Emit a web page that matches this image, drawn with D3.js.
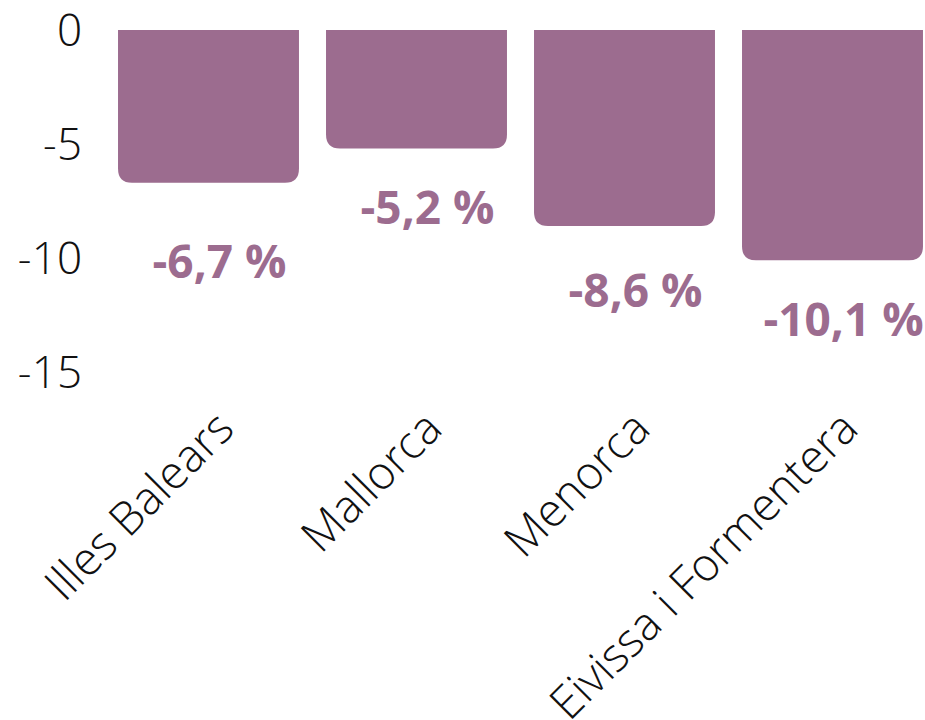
<!DOCTYPE html>
<html>
<head>
<meta charset="utf-8">
<script src="https://cdn.jsdelivr.net/npm/d3@7"></script>
<style>
  body { margin: 0; background: #fff; }
  text { font-family: "Open Sans", sans-serif; }
  .light { font-family: "Open Sans Light", "Open Sans", sans-serif; font-weight: 300; }
</style>
</head>
<body>
<div id="chart"></div>
<script>
// Dades
var categories = ["Illes Balears", "Mallorca", "Menorca", "Eivissa i Formentera"];
var values = [-6.7, -5.2, -8.6, -10.1];
var yTicks = [0, -5, -10, -15];

var width = 925, height = 720;
var color = "#9c6c8f";

var svg = d3.select("#chart")
  .append("svg")
    .attr("width", width)
    .attr("height", height);

// Escales
var x = d3.scaleBand()
  .domain(categories)
  .range([104.5, 936.5])
  .paddingInner(0.13)
  .paddingOuter(0.065);

var y = d3.scaleLinear()
  .domain([0, -15])
  .range([30, 372]);

// Eix Y (només etiquetes)
svg.append("g")
  .selectAll("text")
  .data(yTicks)
  .enter()
  .append("text")
    .attr("class", "light")
    .attr("x", 82)
    .attr("y", function(d){ return y(d) + 16 })
    .attr("text-anchor", "end")
    .attr("font-size", "44px")
    .attr("fill", "#111")
    .text(function(d){ return d })

// Barres amb cantonades inferiors arrodonides
var r = 14;
function barPath(d, i) {
  var x0 = x(categories[i]), x1 = x0 + x.bandwidth();
  var y0 = y(0), y1 = y(d);
  return "M" + x0 + "," + y0 +
    "H" + x1 +
    "V" + (y1 - r) +
    "Q" + x1 + "," + y1 + " " + (x1 - r) + "," + y1 +
    "H" + (x0 + r) +
    "Q" + x0 + "," + y1 + " " + x0 + "," + (y1 - r) +
    "Z";
}

svg.append("g")
  .selectAll("path")
  .data(values)
  .enter()
  .append("path")
    .attr("d", barPath)
    .attr("fill", color)

// Etiquetes de valor
var labelGap = [95, 75, 81, 76];
svg.append("g")
  .selectAll("text")
  .data(values)
  .enter()
  .append("text")
    .attr("x", function(d, i){ return x(categories[i]) + x.bandwidth() / 2 + 11 })
    .attr("y", function(d, i){ return y(d) + labelGap[i] })
    .attr("text-anchor", "middle")
    .attr("font-size", "46px")
    .attr("font-weight", 700)
    .attr("fill", color)
    .text(function(d){ return d.toFixed(1).replace(".", ",") + " %" })

// Etiquetes de categoria
svg.append("g")
  .selectAll("text")
  .data(categories)
  .enter()
  .append("text")
    .attr("class", "light")
    .attr("transform", function(d){
      return "translate(" + (x(d) + x.bandwidth() / 2 + 28) + ",431) rotate(-45)"
    })
    .attr("text-anchor", "end")
    .attr("font-size", "46px")
    .attr("fill", "#111")
    .text(function(d){ return d })
</script>
</body>
</html>
